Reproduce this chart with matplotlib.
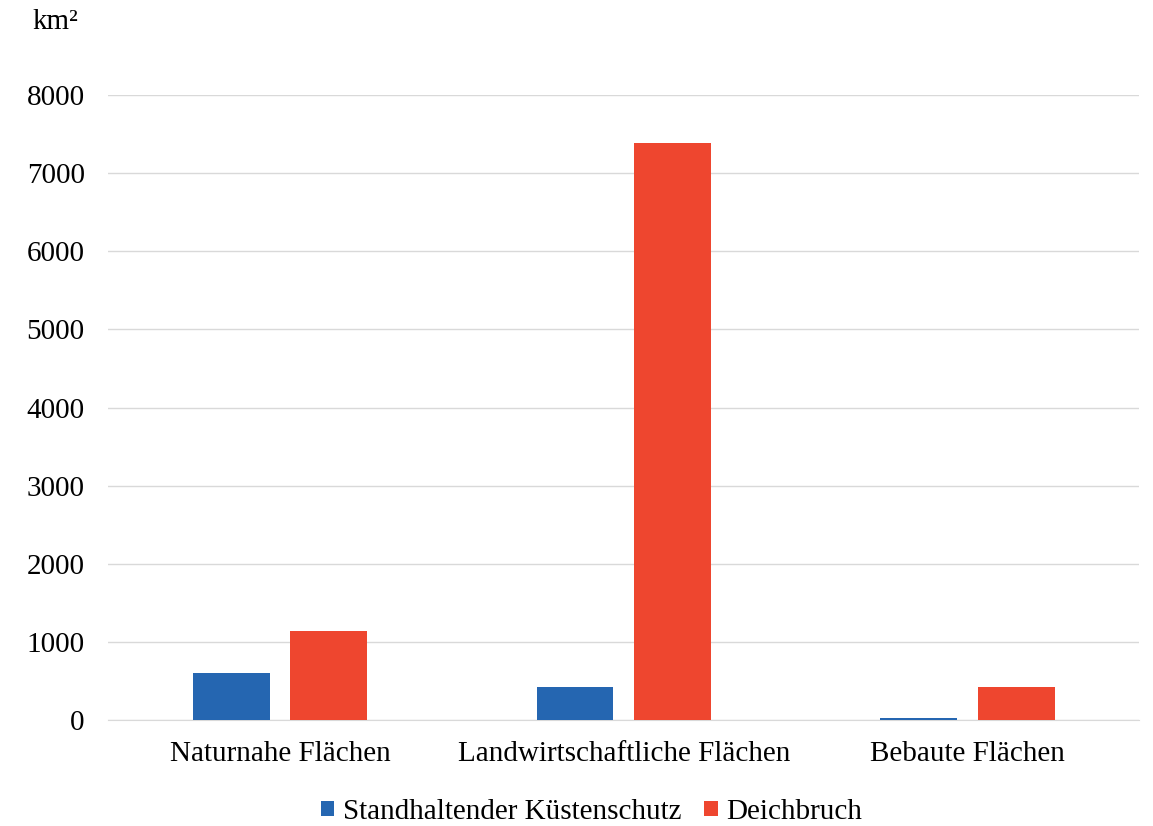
import numpy as np
import matplotlib
matplotlib.use('Agg')
import matplotlib.pyplot as plt

plt.rcParams['font.family'] = ['Liberation Serif', 'DejaVu Serif']

categories = ['Naturnahe Flächen', 'Landwirtschaftliche Flächen', 'Bebaute Flächen']
kuestenschutz = [600, 425, 28]
deichbruch = [1140, 7380, 425]
series_names = ['Standhaltender Küstenschutz', 'Deichbruch']

blue = '#2566b1'
red = '#ee462f'

fig = plt.figure(figsize=(11.53, 8.26), dpi=100)
ax = fig.add_axes([0.094, 0.128, 0.894, 0.757])

x = np.arange(len(categories))
w = 0.224
off = 0.142
ax.bar(x - off, kuestenschutz, w, color=blue, label=series_names[0], zorder=3)
ax.bar(x + off, deichbruch, w, color=red, label=series_names[1], zorder=3)

ax.set_xlim(-0.5, 2.5)
ax.set_ylim(0, 8000)
ax.set_yticks(range(0, 8001, 1000))
ax.set_xticks(x)
ax.set_xticklabels(categories)
ax.yaxis.grid(True, color='#d9d9d9', linewidth=1, zorder=0)
for s in ['top', 'right', 'left']:
    ax.spines[s].set_visible(False)
ax.spines['bottom'].set_color('#d9d9d9')
ax.tick_params(axis='both', length=0, labelsize=21, colors='#000000')
ax.tick_params(axis='y', pad=17)
ax.tick_params(axis='x', pad=15)

fig.text(0.048, 0.973, 'km²', fontsize=21, va='center', ha='center')

fig.legend(loc='center', bbox_to_anchor=(0.513, 0.017), ncol=2, frameon=False,
           fontsize=21, handlelength=0.45, handleheight=0.45, handletextpad=0.3,
           columnspacing=0.8)

plt.savefig('out.png')
